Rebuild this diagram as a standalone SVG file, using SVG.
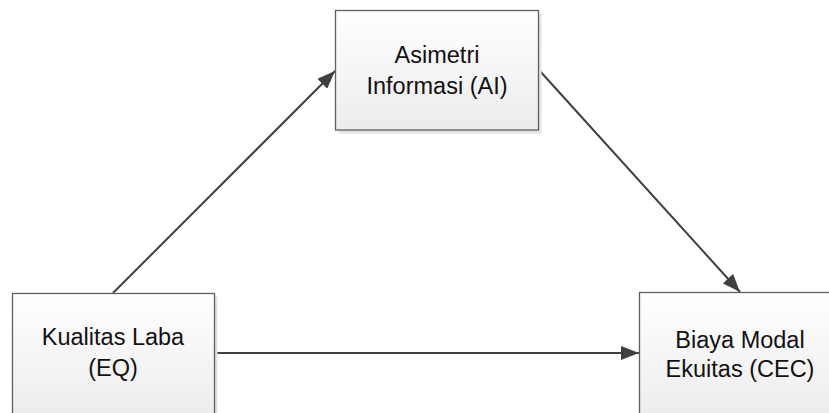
<svg xmlns="http://www.w3.org/2000/svg" width="829" height="413" viewBox="0 0 829 413">
<defs>
<linearGradient id="g" x1="0" y1="0" x2="0" y2="1">
<stop offset="0" stop-color="#ffffff"/>
<stop offset="1" stop-color="#ececec"/>
</linearGradient>
<marker id="arr" viewBox="0 0 18 14" refX="18" refY="7" markerWidth="18" markerHeight="14" markerUnits="userSpaceOnUse" orient="auto">
<path d="M0,0 L18,7 L0,14 Z" fill="#404040"/>
</marker>
</defs>
<style>
.shadow{fill:#e4e4e4;}
.box{fill:url(#g);stroke:#5f5f5f;stroke-width:1.3;}
.t{font-family:"Liberation Sans",Arial,sans-serif;font-size:23.5px;fill:#111;text-anchor:middle;}
.c{stroke:#404040;stroke-width:2;fill:none;marker-end:url(#arr);}
</style>
<g id="connectors">
<line class="c" x1="113" y1="293" x2="335" y2="71"/>
<line class="c" x1="539" y1="70" x2="740" y2="292"/>
<line class="c" x1="214" y1="353" x2="639" y2="353"/>
</g>
<g id="node-ai">
<rect class="shadow" x="338.5" y="13.5" width="203" height="120"/>
<rect class="box" x="335.5" y="10.5" width="203" height="119.5"/>
<text class="t" x="437" y="63">Asimetri</text>
<text class="t" x="437" y="94">Informasi (AI)</text>
</g>
<g id="node-eq">
<rect class="shadow" x="15.5" y="296.5" width="202" height="125"/>
<rect class="box" x="12.5" y="293.5" width="202" height="125"/>
<text class="t" x="113" y="345">Kualitas Laba</text>
<text class="t" x="113" y="376">(EQ)</text>
</g>
<g id="node-cec">
<rect class="shadow" x="642.5" y="295.5" width="202" height="125"/>
<rect class="box" x="639.5" y="292.5" width="202" height="125"/>
<text class="t" x="740" y="348">Biaya Modal</text>
<text class="t" x="740" y="377">Ekuitas (CEC)</text>
</g>
</svg>
